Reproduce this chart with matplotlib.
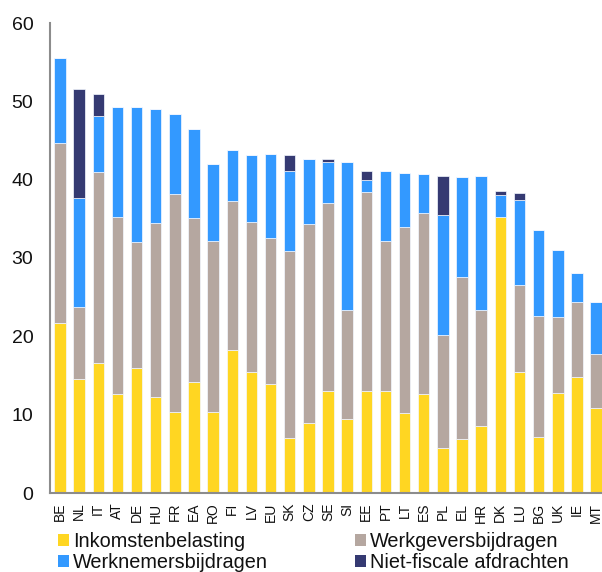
import matplotlib
matplotlib.use("Agg")
import matplotlib.pyplot as plt
from matplotlib.patches import Patch
import numpy as np

plt.rcParams['font.family'] = ['Liberation Sans', 'DejaVu Sans']

countries = ["BE", "NL", "IT", "AT", "DE", "HU", "FR", "EA", "RO", "FI",
             "LV", "EU", "SK", "CZ", "SE", "SI", "EE", "PT", "LT", "ES",
             "PL", "EL", "HR", "DK", "LU", "BG", "UK", "IE", "MT"]

inkomstenbelasting = [21.7, 14.5, 16.6, 12.7, 15.9, 12.3, 10.4, 14.2, 10.3, 18.2,
                      15.5, 13.9, 7.0, 8.9, 13.0, 9.4, 13.0, 13.0, 10.2, 12.7,
                      5.8, 6.9, 8.6, 35.2, 15.5, 7.2, 12.8, 14.8, 10.9]
werkgeversbijdragen = [23.0, 9.2, 24.4, 22.5, 16.2, 22.2, 27.8, 20.9, 21.9, 19.1,
                       19.1, 18.6, 23.9, 25.4, 24.0, 13.9, 25.4, 19.2, 23.7, 23.0,
                       14.4, 20.7, 14.7, 0.0, 11.0, 15.4, 9.7, 9.6, 6.8]
werknemersbijdragen = [10.8, 13.9, 7.1, 14.1, 17.2, 14.5, 10.2, 11.4, 9.8, 6.5,
                       8.5, 10.8, 10.2, 8.3, 5.3, 19.0, 1.6, 8.9, 6.9, 5.0,
                       15.3, 12.7, 17.2, 2.8, 10.9, 11.0, 8.5, 3.7, 6.7]
niet_fiscale = [0.0, 14.0, 2.8, 0.0, 0.0, 0.0, 0.0, 0.0, 0.0, 0.0,
                0.0, 0.0, 2.0, 0.0, 0.3, 0.0, 1.1, 0.0, 0.0, 0.0,
                5.0, 0.0, 0.0, 0.5, 0.9, 0.0, 0.0, 0.0, 0.0]

series = [
    ("Inkomstenbelasting", inkomstenbelasting, "#FFD622"),
    ("Werkgeversbijdragen", werkgeversbijdragen, "#B5A7A0"),
    ("Werknemersbijdragen", werknemersbijdragen, "#3399FF"),
    ("Niet-fiscale afdrachten", niet_fiscale, "#353A72"),
]

fig = plt.figure(figsize=(6.02, 5.72), dpi=100)
ax = fig.add_axes([50 / 602, 79 / 572, 552 / 602, 470 / 572])

x = np.arange(len(countries))
bottom = np.zeros(len(countries))
for name, vals, col in series:
    vals = np.array(vals)
    ax.bar(x, vals, width=0.6, bottom=bottom, color=col,
           edgecolor="#F4F8FF", linewidth=0.5, label=name)
    bottom += vals

ax.set_ylim(0, 60)
ax.set_xlim(-0.52, 28.31)
ax.set_yticks([0, 10, 20, 30, 40, 50, 60])
ax.tick_params(axis="y", length=0, pad=12, labelsize=14, labelcolor="#111111")
ax.set_xticks(x)
ax.set_xticklabels(countries, rotation=90, fontsize=10)
ax.tick_params(axis="x", length=0, pad=7, labelcolor="#111111")

for side in ("top", "right"):
    ax.spines[side].set_visible(False)
for side in ("left", "bottom"):
    ax.spines[side].set_color("#8C8C8C")
    ax.spines[side].set_linewidth(1.5)

handles = [Patch(facecolor=c, edgecolor="none") for _, _, c in series]
labels = [n for n, _, _ in series]
order = [0, 2, 1, 3]
leg = fig.legend([handles[i] for i in order], [labels[i] for i in order],
                 ncol=2, loc="upper left", bbox_to_anchor=(58 / 602, 1 - 532 / 572),
                 frameon=False, fontsize=14.3, handlelength=0.55, handleheight=0.55,
                 handletextpad=0.2, columnspacing=4.4, labelspacing=0.1,
                 borderpad=0.0, borderaxespad=0.0)
for t in leg.get_texts():
    t.set_color("#111111")

fig.savefig("out.png", dpi=100)
